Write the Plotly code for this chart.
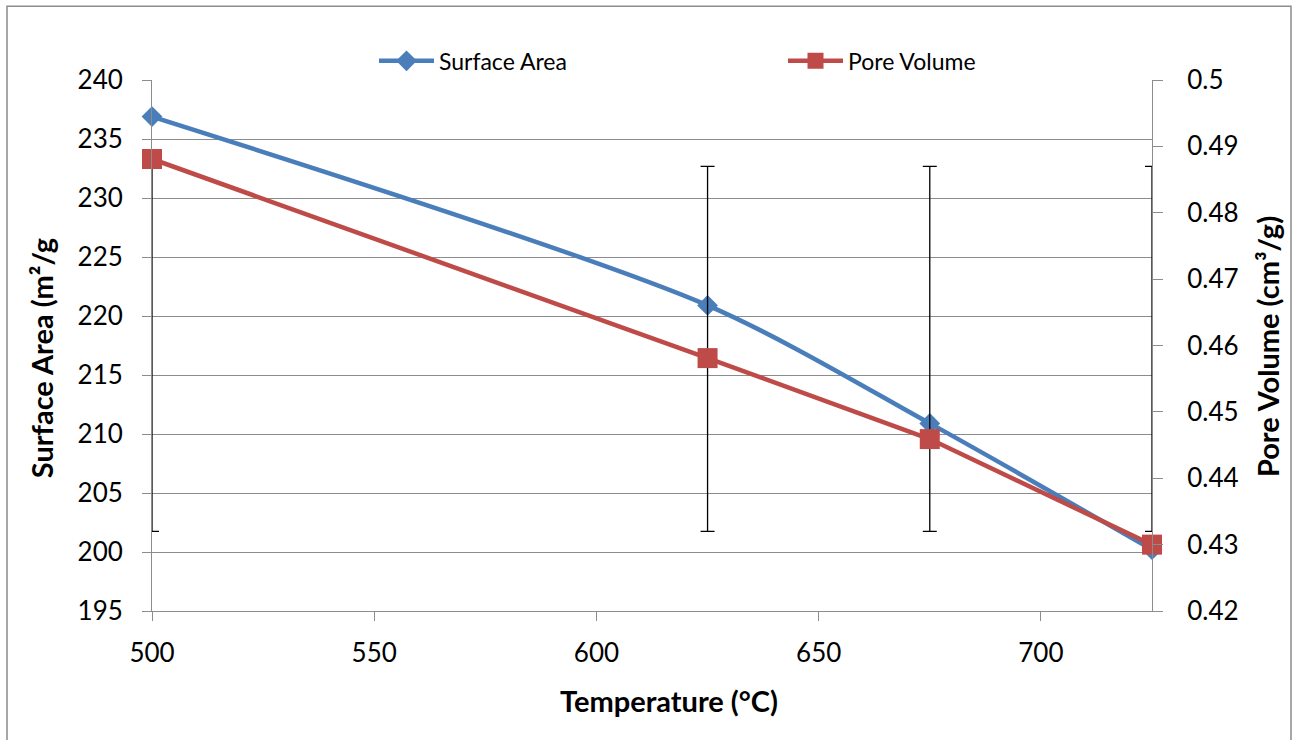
import plotly.graph_objects as go

# Calcination temperature (°C)
temperature = [500, 625, 675, 725]
# BET surface area (m²/g), left axis
surface_area = [236.9, 220.9, 210.9, 200.2]
# Pore volume (cm³/g), right axis
pore_volume = [0.4881, 0.4581, 0.4459, 0.4300]
# Error bar extents, right-axis units
err_top = [0.487, 0.487, 0.487, 0.487]
err_bottom = [0.432, 0.432, 0.432, 0.432]

x_ticks = [500, 550, 600, 650, 700]
left_ticks = [195, 200, 205, 210, 215, 220, 225, 230, 235, 240]
right_ticks = [0.42, 0.43, 0.44, 0.45, 0.46, 0.47, 0.48, 0.49, 0.5]

BLUE = "#4A7EBB"
RED = "#BE4B48"
GRID = "#8C8C8C"
FONT = "Lato"

err_mid = [(t + b) / 2 for t, b in zip(err_top, err_bottom)]
err_half = [(t - b) / 2 for t, b in zip(err_top, err_bottom)]

fig = go.Figure()

fig.add_trace(go.Scatter(
    x=temperature, y=err_mid, yaxis="y2", mode="markers",
    marker=dict(size=1, opacity=0),
    error_y=dict(type="data", array=err_half, symmetric=True,
                 color="#000000", thickness=1.3, width=7),
    showlegend=False, hoverinfo="skip",
))

fig.add_trace(go.Scatter(
    x=temperature, y=surface_area, name="Surface Area",
    mode="lines+markers",
    line=dict(color=BLUE, width=4.5, shape="spline", smoothing=0.8),
    marker=dict(symbol="diamond", size=16, color=BLUE),
    cliponaxis=False,
))

fig.add_trace(go.Scatter(
    x=temperature, y=pore_volume, name="Pore Volume", yaxis="y2",
    mode="lines+markers",
    line=dict(color=RED, width=4.5),
    marker=dict(symbol="square", size=20, color=RED),
    cliponaxis=False,
))

tick_font = dict(family=FONT, size=26, color="#000000")
title_font = dict(family=FONT, size=29, color="#000000")

fig.update_layout(
    width=1294, height=740,
    margin=dict(l=152, r=142, t=80, b=129),
    paper_bgcolor="white", plot_bgcolor="white",
    font=dict(family=FONT, color="#000000"),
    xaxis=dict(
        range=[500, 725], tickvals=x_ticks, ticks="outside", ticklen=9,
        tickcolor=GRID, showline=True, linecolor=GRID, linewidth=1,
        showgrid=False, zeroline=False, tickfont=tick_font,
        ticklabelstandoff=10,
    ),
    yaxis=dict(
        range=[195, 240], tickvals=left_ticks, ticks="outside", ticklen=9,
        tickcolor=GRID, showline=True, linecolor=GRID, linewidth=1,
        showgrid=True, gridcolor=GRID, gridwidth=1, zeroline=False,
        tickfont=tick_font, ticklabelstandoff=14,
    ),
    yaxis2=dict(
        range=[0.42, 0.5], tickvals=right_ticks,
        ticktext=["0.42", "0.43", "0.44", "0.45", "0.46", "0.47", "0.48", "0.49", "0.5"],
        overlaying="y", side="right", ticks="outside", ticklen=10,
        tickcolor=GRID, showline=True, linecolor=GRID, linewidth=1,
        showgrid=False, zeroline=False, tickfont=tick_font,
        ticklabelstandoff=19,
    ),
    legend=dict(
        orientation="h", x=0.222, y=1.036, xanchor="left", yanchor="middle",
        font=dict(family=FONT, size=23, color="#000000"),
        itemwidth=55, entrywidth=339, bgcolor="rgba(0,0,0,0)",
    ),
    shapes=[dict(
        type="rect", xref="paper", yref="paper",
        x0=-0.145, x1=1.139, y0=-0.26, y1=1.139,
        line=dict(color="#8C8C8C", width=1.5), layer="below",
    )],
    annotations=[
        dict(text="<b>Temperature (°C)</b>", xref="paper", yref="paper",
             x=0.517, y=-0.168, xanchor="center", yanchor="middle",
             showarrow=False, font=title_font),
        dict(text="<b>Surface Area (m²/g</b>", xref="paper", yref="paper",
             x=-0.111, y=0.476, xanchor="center", yanchor="middle",
             textangle=-90, showarrow=False, font=title_font),
        dict(text="<b>Pore Volume (cm³/g)</b>", xref="paper", yref="paper",
             x=1.115, y=0.497, xanchor="center", yanchor="middle",
             textangle=-90, showarrow=False, font=title_font),
    ],
)

fig.write_html("out.html")
